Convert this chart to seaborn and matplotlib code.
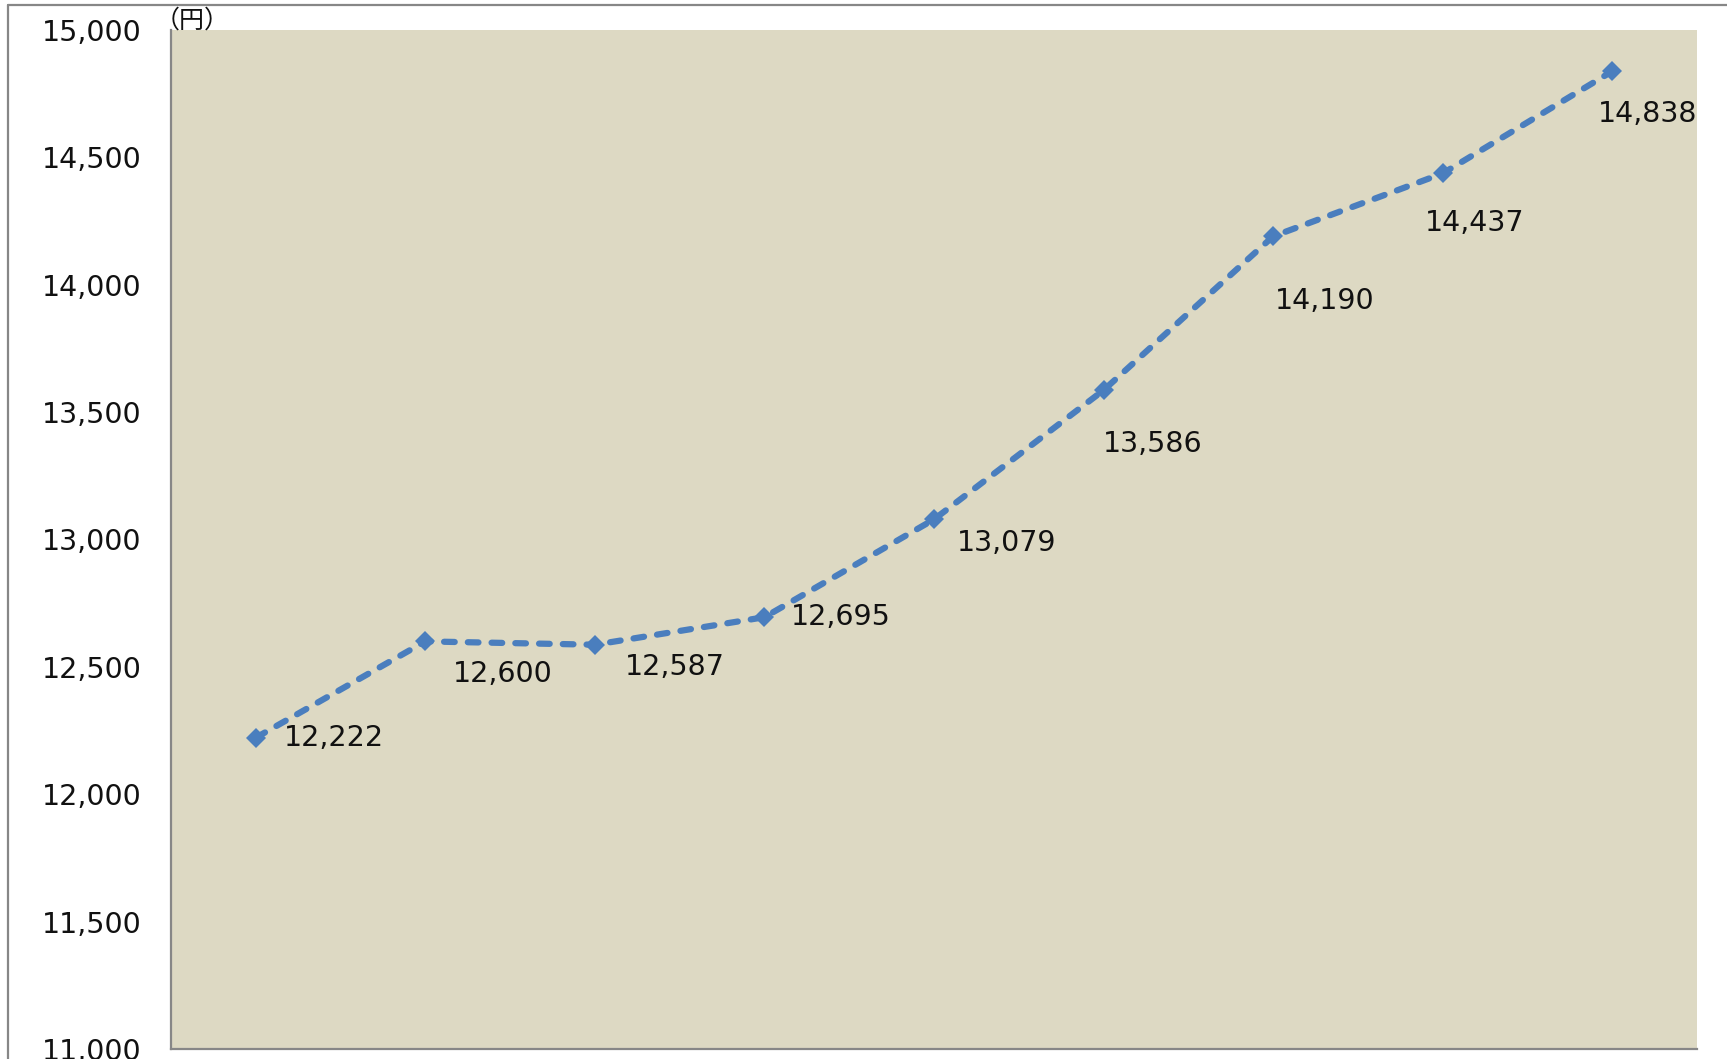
import matplotlib
matplotlib.use('Agg')

import matplotlib.pyplot as plt
from matplotlib.lines import Line2D
import numpy as np
import seaborn as sns

# data (yen)
values = [12222, 12600, 12587, 12695, 13079, 13586, 14190, 14437, 14838]
y_ticks = [11000, 11500, 12000, 12500, 13000, 13500, 14000, 14500, 15000]
unit_label = '（円）'

# where each data label sits relative to its marker (pixels: right, down)
label_offsets = [(28, 0), (28, 33), (30, 22), (26, 0), (23, 24),
                 (-1, 54), (2, 65), (-18, 50), (-14, 43)]

BG = '#DDD9C3'
LINE = '#4A7EBE'
GRAY = '#878787'

sns.set_style('white')
plt.rcParams['font.family'] = ['DejaVu Sans', 'Noto Sans CJK JP']

fig = plt.figure(figsize=(17.27, 10.59), dpi=100)
ax = fig.add_axes([171 / 1727, 1 - 1049 / 1059, (1697 - 171) / 1727, (1049 - 30) / 1059])
ax.set_facecolor(BG)

idx = np.arange(len(values))
sns.lineplot(x=idx, y=values, ax=ax, color=LINE, linewidth=4.5,
             linestyle=(0, (1.7, 2.1)), dash_capstyle='round',
             marker='D', markersize=10.5, markeredgewidth=0)

for i, v in enumerate(values):
    dx, dy = label_offsets[i]
    ax.annotate(f'{v:,}', xy=(i, v), xytext=(dx, -dy), textcoords='offset pixels',
                ha='left', va='center', fontsize=20.5, color='#111111')

ax.set_xlim(-0.5, len(values) - 0.5)
ax.set_ylim(y_ticks[0], y_ticks[-1])
ax.set_yticks(y_ticks)
ax.set_yticklabels([f'{t:,}' for t in y_ticks], fontsize=20.5, color='#111111')
ax.set_xticks([])
ax.tick_params(axis='y', length=0, pad=21)
ax.set_xlabel('')
ax.set_ylabel('')

for side in ['top', 'right']:
    ax.spines[side].set_visible(False)
for side in ['left', 'bottom']:
    ax.spines[side].set_color(GRAY)
    ax.spines[side].set_linewidth(1.6)

# unit label above the axis
fig.text(155 / 1727, 1 - 21 / 1059, unit_label, fontsize=18, ha='left', va='center',
         family=['Noto Sans CJK JP'], color='#111111')

# outer chart frame (only top and left edges are in view)
fig.add_artist(Line2D([8 / 1727, 8 / 1727], [0, 1 - 5 / 1059], transform=fig.transFigure,
                      color=GRAY, linewidth=1.6))
fig.add_artist(Line2D([8 / 1727, 1], [1 - 5 / 1059, 1 - 5 / 1059], transform=fig.transFigure,
                      color=GRAY, linewidth=1.6))

fig.savefig('out.png', dpi=100, facecolor='white')
plt.close(fig)
